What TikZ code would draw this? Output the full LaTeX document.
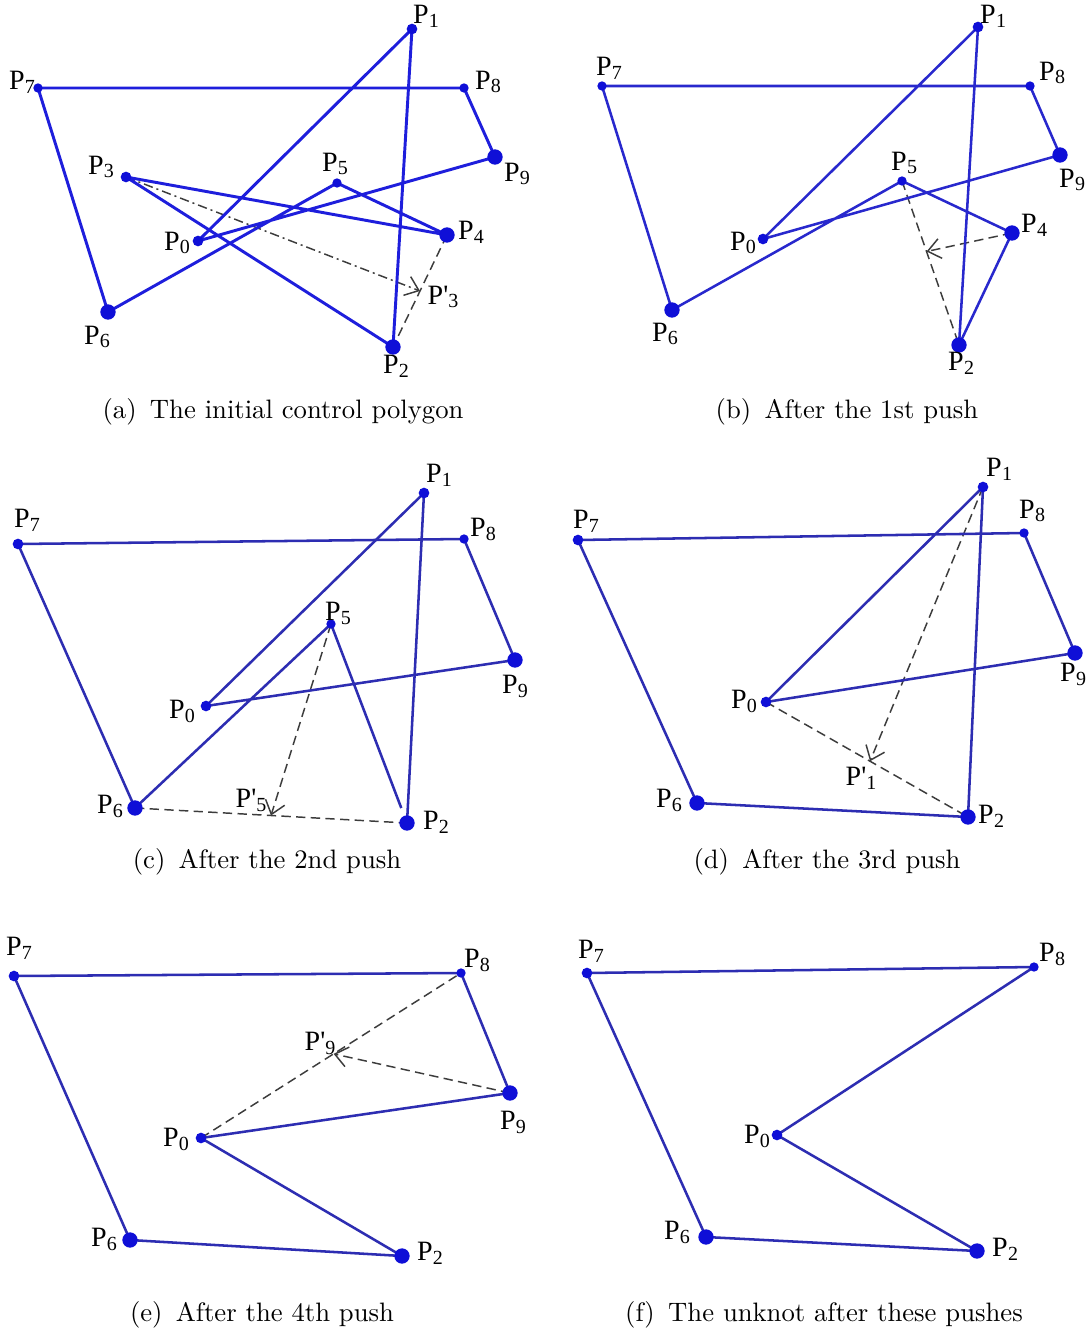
\documentclass[tikz,border=0pt]{standalone}
\usepackage{fontspec}
\newfontfamily\labfont{Liberation Serif}
\usetikzlibrary{calc,arrows.meta}
\definecolor{lineA}{RGB}{30,30,220}
\definecolor{lineB}{RGB}{40,40,205}
\definecolor{lineC}{RGB}{45,45,178}
\definecolor{dotcol}{RGB}{15,15,215}
\definecolor{dashcol}{RGB}{60,60,60}
\newcommand\plab[1]{{\labfont\fontsize{21}{21}\selectfont P\kern0.3pt\raisebox{-0.3ex}{\fontsize{15}{15}\selectfont #1}}}
\newcommand\pplab[1]{{\labfont\fontsize{21}{21}\selectfont P'\raisebox{-0.3ex}{\fontsize{15}{15}\selectfont #1}}}
\tikzset{
  edgeA/.style={draw=lineA,line width=2.2pt,line join=round},
  edgeB/.style={draw=lineB,line width=1.9pt,line join=round},
  edgeC/.style={draw=lineC,line width=1.9pt,line join=round},
  dotbase/.style={circle,inner sep=0pt,fill=dotcol,draw=none},
  sdot/.style={dotbase,minimum size=7pt},
  mdot/.style={dotbase,minimum size=8pt},
  bdot/.style={dotbase,minimum size=11.5pt},
  plabel/.style={inner sep=0pt,anchor=center},
  caption/.style={font=\fontsize{10}{12}\selectfont,scale=2,inner sep=0pt,anchor=center},
  dashline/.style={draw=dashcol,line width=1.1pt,dash pattern=on 7pt off 4pt},
  dashdotline/.style={draw=dashcol,line width=1.1pt,dash pattern=on 7pt off 3pt on 1.5pt off 3pt},
  pusharrow/.style={-{Straight Barb[length=9.5pt,width=15pt,line width=1.1pt]}}
}
\begin{document}
\begin{tikzpicture}[x=0.75pt,y=-0.75pt]
\useasboundingbox[fill=white] (0,0) rectangle (1086,1333);

% ---------------- (a) ----------------
\coordinate (a0) at (198,241);
\coordinate (a1) at (412,29);
\coordinate (a2) at (393,347);
\coordinate (a3) at (126,177);
\coordinate (a4) at (447,235);
\coordinate (a5) at (337,183);
\coordinate (a6) at (108,312);
\coordinate (a7) at (38,88);
\coordinate (a8) at (464,88);
\coordinate (a9) at (495,157);
\coordinate (a3p) at ($(a4)!0.5!(a2)$);
\draw[dashline] (a4) -- (a2);
\draw[dashdotline,pusharrow] (a3) -- (a3p);
\draw[edgeA] (a0) -- (a1) -- (a2) -- (a3) -- (a4) -- (a5) -- (a6) -- (a7) -- (a8) -- (a9) -- cycle;
\node[mdot] (da0) at (a0) {};
\node[mdot] (da1) at (a1) {};
\node[bdot] (da2) at (a2) {};
\node[mdot] (da3) at (a3) {};
\node[bdot] (da4) at (a4) {};
\node[sdot] (da5) at (a5) {};
\node[bdot] (da6) at (a6) {};
\node[sdot] (da7) at (a7) {};
\node[sdot] (da8) at (a8) {};
\node[bdot] (da9) at (a9) {};
\node[plabel] (la0) at (177,243) {\plab{0}};
\node[plabel] (la1) at (426,16) {\plab{1}};
\node[plabel] (la2) at (396,366) {\plab{2}};
\node[plabel] (la3) at (101,167) {\plab{3}};
\node[plabel] (la4) at (471,232) {\plab{4}};
\node[plabel] (la5) at (335,164) {\plab{5}};
\node[plabel] (la6) at (97,337) {\plab{6}};
\node[plabel] (la7) at (22,82) {\plab{7}};
\node[plabel] (la8) at (488,82) {\plab{8}};
\node[plabel] (la9) at (517,174) {\plab{9}};
\node[plabel] (la3p) at (443,297) {\pplab{3}};
\node[caption] (capa) at (283,412) {(a)\enspace The initial control polygon};

% ---------------- (b) ----------------
\coordinate (b0) at (763,239);
\coordinate (b1) at (978,27);
\coordinate (b2) at (959,345);
\coordinate (b4) at (1012,233);
\coordinate (b5) at (902,181);
\coordinate (b6) at (672,310);
\coordinate (b7) at (602,86);
\coordinate (b8) at (1030,86);
\coordinate (b9) at (1060,155);
\coordinate (b4p) at ($(b5)!0.43!(b2)$);
\draw[dashline] (b5) -- (b2);
\draw[dashline,pusharrow] (b4) -- (b4p);
\draw[edgeB] (b0) -- (b1) -- (b2) -- (b4) -- (b5) -- (b6) -- (b7) -- (b8) -- (b9) -- cycle;
\node[mdot] (db0) at (b0) {};
\node[mdot] (db1) at (b1) {};
\node[bdot] (db2) at (b2) {};
\node[bdot] (db4) at (b4) {};
\node[sdot] (db5) at (b5) {};
\node[bdot] (db6) at (b6) {};
\node[sdot] (db7) at (b7) {};
\node[sdot] (db8) at (b8) {};
\node[bdot] (db9) at (b9) {};
\node[plabel] (lb0) at (743,243) {\plab{0}};
\node[plabel] (lb1) at (993,16) {\plab{1}};
\node[plabel] (lb2) at (961,363) {\plab{2}};
\node[plabel] (lb4) at (1034,225) {\plab{4}};
\node[plabel] (lb5) at (904,163) {\plab{5}};
\node[plabel] (lb6) at (665,334) {\plab{6}};
\node[plabel] (lb7) at (609,68) {\plab{7}};
\node[plabel] (lb8) at (1052,73) {\plab{8}};
\node[plabel] (lb9) at (1072,180) {\plab{9}};
\node[caption] (capb) at (847,412) {(b)\enspace After the 1st push};

% ---------------- (c) ----------------
\coordinate (c0) at (206,706);
\coordinate (c1) at (424,493);
\coordinate (c2) at (407,823);
\coordinate (c5) at (331,624);
\coordinate (c6) at (135,808);
\coordinate (c7) at (18,544);
\coordinate (c8) at (464,539);
\coordinate (c9) at (515,660);
\coordinate (c5p) at ($(c6)!0.5!(c2)$);
\draw[dashline] (c6) -- (c2);
\draw[dashline,pusharrow] (c5) -- (c5p);
\draw[edgeC] (c0) -- (c1) -- (c2);
\draw[edgeC,shorten <=12pt] (c2) -- (c5);
\draw[edgeC] (c5) -- (c6) -- (c7) -- (c8) -- (c9) -- (c0);
\node[mdot] (dc0) at (c0) {};
\node[mdot] (dc1) at (c1) {};
\node[bdot] (dc2) at (c2) {};
\node[sdot] (dc5) at (c5) {};
\node[bdot] (dc6) at (c6) {};
\node[mdot] (dc7) at (c7) {};
\node[sdot] (dc8) at (c8) {};
\node[bdot] (dc9) at (c9) {};
\node[plabel] (lc0) at (182,711) {\plab{0}};
\node[plabel] (lc1) at (439,475) {\plab{1}};
\node[plabel] (lc2) at (436,822) {\plab{2}};
\node[plabel] (lc5) at (338,613) {\plab{5}};
\node[plabel] (lc6) at (110,806) {\plab{6}};
\node[plabel] (lc7) at (27,520) {\plab{7}};
\node[plabel] (lc8) at (483,529) {\plab{8}};
\node[plabel] (lc9) at (515,686) {\plab{9}};
\node[plabel] (lc5p) at (251,800) {\pplab{5}};
\node[caption] (capc) at (267,862) {(c)\enspace After the 2nd push};

% ---------------- (d) ----------------
\coordinate (d0) at (766,702);
\coordinate (d1) at (983,487);
\coordinate (d2) at (968,817);
\coordinate (d6) at (697,803);
\coordinate (d7) at (578,540);
\coordinate (d8) at (1024,533);
\coordinate (d9) at (1075,653);
\coordinate (d1p) at ($(d0)!0.515!(d2)$);
\draw[dashline] (d0) -- (d2);
\draw[dashline,pusharrow] (d1) -- (d1p);
\draw[edgeC] (d0) -- (d1) -- (d2) -- (d6) -- (d7) -- (d8) -- (d9) -- cycle;
\node[mdot] (dd0) at (d0) {};
\node[mdot] (dd1) at (d1) {};
\node[bdot] (dd2) at (d2) {};
\node[bdot] (dd6) at (d6) {};
\node[mdot] (dd7) at (d7) {};
\node[sdot] (dd8) at (d8) {};
\node[bdot] (dd9) at (d9) {};
\node[plabel] (ld0) at (744,701) {\plab{0}};
\node[plabel] (ld1) at (999,469) {\plab{1}};
\node[plabel] (ld2) at (991,816) {\plab{2}};
\node[plabel] (ld6) at (669,800) {\plab{6}};
\node[plabel] (ld7) at (586,521) {\plab{7}};
\node[plabel] (ld8) at (1032,511) {\plab{8}};
\node[plabel] (ld9) at (1073,674) {\plab{9}};
\node[plabel] (ld1p) at (861,778) {\pplab{1}};
\node[caption] (capd) at (827,862) {(d)\enspace After the 3rd push};

% ---------------- (e) ----------------
\coordinate (e0) at (201,1138);
\coordinate (e2) at (402,1256);
\coordinate (e6) at (130,1240);
\coordinate (e7) at (14,976);
\coordinate (e8) at (461,973);
\coordinate (e9) at (510,1093);
\coordinate (e9p) at ($(e0)!0.51!(e8)$);
\draw[dashline] (e0) -- (e8);
\draw[dashline,pusharrow] (e9) -- (e9p);
\draw[edgeC] (e0) -- (e2) -- (e6) -- (e7) -- (e8) -- (e9) -- cycle;
\node[mdot] (de0) at (e0) {};
\node[bdot] (de2) at (e2) {};
\node[bdot] (de6) at (e6) {};
\node[mdot] (de7) at (e7) {};
\node[sdot] (de8) at (e8) {};
\node[bdot] (de9) at (e9) {};
\node[plabel] (le0) at (176,1139) {\plab{0}};
\node[plabel] (le2) at (430,1253) {\plab{2}};
\node[plabel] (le6) at (104,1239) {\plab{6}};
\node[plabel] (le7) at (19,948) {\plab{7}};
\node[plabel] (le8) at (477,960) {\plab{8}};
\node[plabel] (le9) at (513,1122) {\plab{9}};
\node[plabel] (le9p) at (320,1043) {\pplab{9}};
\node[caption] (cape) at (262,1315) {(e)\enspace After the 4th push};

% ---------------- (f) ----------------
\coordinate (f0) at (777,1135);
\coordinate (f2) at (977,1251);
\coordinate (f6) at (706,1237);
\coordinate (f7) at (587,973);
\coordinate (f8) at (1034,967);
\draw[edgeC] (f0) -- (f8) -- (f7) -- (f6) -- (f2) -- cycle;
\node[mdot] (df0) at (f0) {};
\node[bdot] (df2) at (f2) {};
\node[bdot] (df6) at (f6) {};
\node[mdot] (df7) at (f7) {};
\node[sdot] (df8) at (f8) {};
\node[plabel] (lf0) at (757,1136) {\plab{0}};
\node[plabel] (lf2) at (1005,1249) {\plab{2}};
\node[plabel] (lf6) at (677,1232) {\plab{6}};
\node[plabel] (lf7) at (591,951) {\plab{7}};
\node[plabel] (lf8) at (1052,954) {\plab{8}};
\node[caption] (capf) at (824,1315) {(f)\enspace The unknot after these pushes};
\end{tikzpicture}
\end{document}
